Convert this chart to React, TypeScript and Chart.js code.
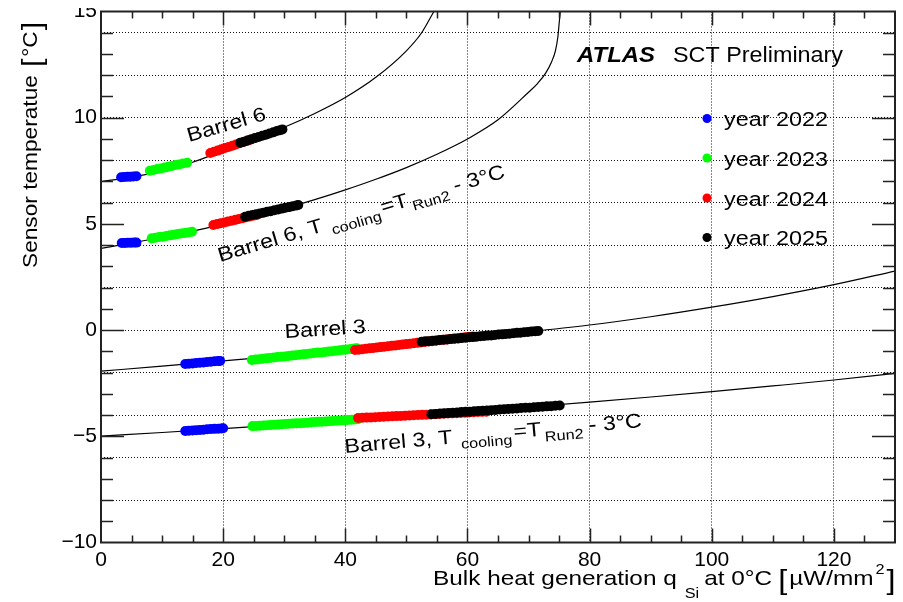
import React, { useEffect, useRef } from "react";
import { Chart, registerables } from "chart.js";

Chart.register(...registerables);

// ---------------- data ----------------
const X_MIN = 0;
const X_MAX = 130;
const Y_MIN = -10;
const Y_MAX = 15;
const X_TICK_LABELS = [0, 20, 40, 60, 80, 100, 120];
const Y_TICK_LABELS = [-10, -5, 0, 5, 10, 15];
const X_GRID = [20, 40, 60, 80, 100, 120];
const Y_GRID = [-8, -6, -4, -2, 0, 2, 4, 6, 8, 10, 12, 14];

const YEAR_LABELS = ["year 2022", "year 2023", "year 2024", "year 2025"];
const YEAR_COLORS = ["#0000ff", "#00ff00", "#ff0000", "#000000"];

// model curves
const CURVE_B6_X = [0, 5, 10, 15, 20, 25, 30, 35, 40, 45, 50, 52.5, 54.5];
const CURVE_B6_Y = [6.99, 7.2, 7.5, 7.9, 8.45, 9.0, 9.55, 10.2, 10.95, 11.9, 13.15, 14.0, 15.0];
const CURVE_B6T_X = [0, 5, 10, 15, 20, 25, 30, 35, 40, 45, 50, 55, 60, 65, 70, 71.5, 72.8, 73.8, 74.4, 74.8, 75.0, 75.2];
const CURVE_B6T_Y = [3.85, 4.1, 4.37, 4.66, 4.99, 5.34, 5.72, 6.14, 6.6, 7.1, 7.65, 8.28, 9.0, 9.9, 11.2, 11.62, 12.1, 12.65, 13.15, 13.8, 14.4, 15.0];
const CURVE_B3_X = [0, 10, 20, 30, 40, 50, 60, 70, 80, 90, 100, 110, 120, 130];
const CURVE_B3_Y = [-1.93, -1.7, -1.45, -1.2, -0.93, -0.65, -0.36, -0.08, 0.24, 0.63, 1.08, 1.58, 2.14, 2.78];
const CURVE_B3T_X = [0, 10, 20, 30, 40, 50, 60, 70, 80, 90, 100, 110, 120, 130];
const CURVE_B3T_Y = [-4.99, -4.82, -4.64, -4.45, -4.25, -4.05, -3.84, -3.62, -3.39, -3.15, -2.9, -2.63, -2.35, -2.04];

// Barrel 6 measurements
const B6_2022_X = [3.3, 3.8, 4.3, 4.8, 5.3, 5.8];
const B6_2022_Y = [7.2, 7.21, 7.22, 7.22, 7.23, 7.24];
const B6_2023_X = [8.0, 8.6, 9.2, 9.8, 10.4, 11.0, 11.6, 12.2, 12.8, 13.4, 14.1];
const B6_2023_Y = [7.5, 7.54, 7.58, 7.61, 7.65, 7.69, 7.73, 7.77, 7.8, 7.84, 7.88];
const B6_2024_X = [17.9, 18.5, 19.1, 19.7, 20.3, 20.9, 21.5, 22.1, 22.7, 23.3, 23.9, 24.3];
const B6_2024_Y = [8.34, 8.4, 8.45, 8.51, 8.57, 8.62, 8.68, 8.74, 8.8, 8.86, 8.91, 8.95];
const B6_2025_X = [22.8, 23.4, 24.0, 24.6, 25.2, 25.8, 26.4, 27.0, 27.6, 28.2, 28.8, 29.3, 29.7];
const B6_2025_Y = [8.82, 8.87, 8.93, 8.98, 9.04, 9.09, 9.15, 9.2, 9.26, 9.31, 9.37, 9.41, 9.45];

// Barrel 6, T_cooling = T_Run2 - 3C
const B6T_2022_X = [3.4, 3.9, 4.4, 4.9, 5.4, 5.8];
const B6T_2022_Y = [4.1, 4.1, 4.11, 4.11, 4.12, 4.12];
const B6T_2023_X = [8.3, 8.9, 9.5, 10.1, 10.7, 11.3, 11.9, 12.5, 13.1, 13.7, 14.3, 14.9];
const B6T_2023_Y = [4.32, 4.35, 4.38, 4.4, 4.43, 4.46, 4.49, 4.52, 4.55, 4.57, 4.6, 4.63];
const B6T_2024_X = [18.4, 19.0, 19.6, 20.2, 20.8, 21.4, 22.0, 22.6, 23.2, 23.8, 24.4, 25.0, 25.5];
const B6T_2024_Y = [4.95, 4.99, 5.03, 5.07, 5.11, 5.15, 5.19, 5.23, 5.27, 5.31, 5.35, 5.39, 5.42];
const B6T_2025_X = [23.6, 24.2, 24.8, 25.4, 26.0, 26.6, 27.2, 27.8, 28.4, 29.0, 29.6, 30.2, 30.8, 31.4, 32.0, 32.3];
const B6T_2025_Y = [5.34, 5.38, 5.42, 5.45, 5.49, 5.53, 5.57, 5.6, 5.64, 5.68, 5.72, 5.76, 5.79, 5.83, 5.87, 5.89];

// Barrel 3 measurements
const B3_2022_X = [13.8, 14.4, 15.0, 15.6, 16.2, 16.8, 17.4, 18.0, 18.6, 19.2, 19.5];
const B3_2022_Y = [-1.6, -1.58, -1.57, -1.55, -1.54, -1.52, -1.5, -1.49, -1.47, -1.46, -1.45];
const B3_2023_X = [24.7, 25.3, 25.9, 26.5, 27.1, 27.7, 28.3, 28.9, 29.5, 30.1, 30.7, 31.3, 31.9, 32.5, 33.1, 33.7, 34.3, 34.9, 35.5, 36.1, 36.7, 37.3, 37.9, 38.5, 39.1, 39.7, 40.3, 40.9, 41.5, 41.9];
const B3_2023_Y = [-1.41, -1.39, -1.37, -1.35, -1.33, -1.31, -1.29, -1.27, -1.26, -1.24, -1.22, -1.2, -1.18, -1.16, -1.14, -1.12, -1.1, -1.08, -1.06, -1.05, -1.03, -1.01, -0.99, -0.97, -0.95, -0.93, -0.91, -0.89, -0.87, -0.86];
const B3_2024_X = [41.6, 42.2, 42.8, 43.4, 44.0, 44.6, 45.2, 45.8, 46.4, 47.0, 47.6, 48.2, 48.8, 49.4, 50.0, 50.6, 51.2, 51.8, 52.4, 53.0, 53.6, 54.2, 54.8, 55.4, 56.0, 56.6, 57.2, 57.8, 58.4, 59.0, 59.6, 60.2, 60.9];
const B3_2024_Y = [-0.94, -0.92, -0.9, -0.88, -0.86, -0.84, -0.82, -0.8, -0.78, -0.76, -0.74, -0.72, -0.7, -0.68, -0.66, -0.64, -0.62, -0.6, -0.58, -0.56, -0.54, -0.52, -0.5, -0.48, -0.46, -0.44, -0.42, -0.4, -0.38, -0.36, -0.34, -0.32, -0.3];
const B3_2025_X = [52.5, 53.1, 53.7, 54.3, 54.9, 55.5, 56.1, 56.7, 57.3, 57.9, 58.5, 59.1, 59.7, 60.3, 60.9, 61.5, 62.1, 62.7, 63.3, 63.9, 64.5, 65.1, 65.7, 66.3, 66.9, 67.5, 68.1, 68.7, 69.3, 69.9, 70.5, 71.1, 71.6];
const B3_2025_Y = [-0.55, -0.53, -0.52, -0.5, -0.49, -0.47, -0.45, -0.44, -0.42, -0.41, -0.39, -0.37, -0.36, -0.34, -0.33, -0.31, -0.29, -0.28, -0.26, -0.25, -0.23, -0.21, -0.2, -0.18, -0.17, -0.15, -0.13, -0.12, -0.1, -0.09, -0.07, -0.05, -0.04];

// Barrel 3, T_cooling = T_Run2 - 3C
const B3T_2022_X = [13.8, 14.4, 15.0, 15.6, 16.2, 16.8, 17.4, 18.0, 18.6, 19.2, 19.7, 20.0];
const B3T_2022_Y = [-4.75, -4.74, -4.73, -4.71, -4.7, -4.69, -4.67, -4.66, -4.65, -4.64, -4.63, -4.62];
const B3T_2023_X = [24.8, 25.4, 26.0, 26.6, 27.2, 27.8, 28.4, 29.0, 29.6, 30.2, 30.8, 31.4, 32.0, 32.6, 33.2, 33.8, 34.4, 35.0, 35.6, 36.2, 36.8, 37.4, 38.0, 38.6, 39.2, 39.8, 40.4, 41.0, 41.6, 42.1];
const B3T_2023_Y = [-4.52, -4.51, -4.5, -4.49, -4.48, -4.47, -4.46, -4.45, -4.43, -4.42, -4.41, -4.4, -4.39, -4.38, -4.37, -4.36, -4.34, -4.33, -4.32, -4.31, -4.3, -4.29, -4.28, -4.27, -4.26, -4.25, -4.23, -4.22, -4.21, -4.2];
const B3T_2024_X = [42.1, 42.8, 43.5, 44.2, 44.9, 45.6, 46.3, 47.0, 47.7, 48.4, 49.1, 49.8, 50.5, 51.2, 51.9, 52.6, 53.3, 54.0, 54.7, 55.4, 56.1, 56.8, 57.5, 58.2, 58.9, 59.6, 60.3, 61.0, 61.7, 62.4, 63.1];
const B3T_2024_Y = [-4.14, -4.13, -4.12, -4.11, -4.1, -4.09, -4.08, -4.07, -4.06, -4.05, -4.04, -4.03, -4.02, -4.01, -4.0, -3.99, -3.98, -3.97, -3.96, -3.95, -3.94, -3.93, -3.92, -3.91, -3.9, -3.89, -3.88, -3.87, -3.86, -3.85, -3.84];
const B3T_2025_X = [54.1, 54.8, 55.5, 56.2, 56.9, 57.6, 58.3, 59.0, 59.7, 60.4, 61.1, 61.8, 62.5, 63.2, 63.9, 64.6, 65.3, 66.0, 66.7, 67.4, 68.1, 68.8, 69.5, 70.2, 70.9, 71.6, 72.3, 73.0, 73.7, 74.4, 75.1];
const B3T_2025_Y = [-3.96, -3.95, -3.93, -3.92, -3.9, -3.89, -3.88, -3.86, -3.85, -3.84, -3.82, -3.81, -3.8, -3.78, -3.77, -3.76, -3.74, -3.73, -3.71, -3.7, -3.69, -3.67, -3.66, -3.65, -3.63, -3.62, -3.61, -3.59, -3.58, -3.56, -3.55];

// ---------------- layout ----------------
const OFF = 8; // canvas top offset on the page
const W = 903;
const H = 602 - OFF;
const FONT = '"Liberation Sans", Arial, Helvetica, sans-serif';

function pts(xs: number[], ys: number[]) {
  return xs.map((x, i) => ({ x, y: ys[i] }));
}

function near(list: number[], v: number) {
  return list.some((l) => Math.abs(l - v) < 1e-6);
}

function fnt(size: number, style = "") {
  return `${style} ${size}px ${FONT}`.trim();
}

type Piece = { t: string; size: number; dy?: number; gap?: number; style?: string };

function drawPieces(ctx: CanvasRenderingContext2D, x: number, y: number, angleDeg: number, pieces: Piece[], sx: number) {
  ctx.save();
  ctx.translate(x, y);
  ctx.rotate((angleDeg * Math.PI) / 180);
  ctx.textAlign = "left";
  ctx.textBaseline = "alphabetic";
  let cx = 0;
  for (const p of pieces) {
    cx += p.gap || 0;
    ctx.font = fnt(p.size, p.style || "");
    const w = ctx.measureText(p.t).width * sx;
    ctx.save();
    ctx.translate(cx, p.dy || 0);
    ctx.scale(sx, 1);
    ctx.fillText(p.t, 0, 0);
    ctx.restore();
    cx += w;
  }
  ctx.restore();
}

function drawFit(ctx: CanvasRenderingContext2D, t: string, x: number, y: number, size: number, width: number, style = "") {
  ctx.save();
  ctx.font = fnt(size, style);
  ctx.textAlign = "left";
  ctx.textBaseline = "alphabetic";
  const w = ctx.measureText(t).width;
  ctx.translate(x, y);
  ctx.scale(width / w, 1);
  ctx.fillText(t, 0, 0);
  ctx.restore();
}

const decor = {
  id: "decor",
  afterDatasetsDraw(chart: any) {
    const { ctx, chartArea: a, scales } = chart;
    const xs = scales.x;
    const ys = scales.y;
    ctx.save();
    ctx.strokeStyle = "#222";
    ctx.lineWidth = 1.5;
    ctx.beginPath();
    for (let v = Y_MIN + 1; v < Y_MAX; v++) {
      const p = Math.round(ys.getPixelForValue(v)) + 0.5;
      const len = v % 5 === 0 ? 23 : 12;
      ctx.moveTo(a.left, p);
      ctx.lineTo(a.left + len, p);
      ctx.moveTo(a.right, p);
      ctx.lineTo(a.right - len, p);
    }
    for (let v = X_MIN + 5; v < X_MAX; v += 5) {
      const p = Math.round(xs.getPixelForValue(v)) + 0.5;
      const len = v % 20 === 0 ? 14 : 7;
      ctx.moveTo(p, a.bottom);
      ctx.lineTo(p, a.bottom - len);
      ctx.moveTo(p, a.top);
      ctx.lineTo(p, a.top + len);
    }
    ctx.stroke();
    ctx.lineWidth = 2;
    ctx.strokeRect(a.left, a.top, a.right - a.left, a.bottom - a.top);
    ctx.restore();
  },
  afterDraw(chart: any) {
    const ctx: CanvasRenderingContext2D = chart.ctx;
    ctx.save();
    ctx.translate(0, -OFF); // page coordinates
    ctx.fillStyle = "#000";

    // header
    drawFit(ctx, "ATLAS", 577, 62, 22, 78, "italic bold");
    drawFit(ctx, "SCT Preliminary", 673, 62, 22, 170);

    // legend
    const legY = [118.5, 158, 198, 237.5];
    YEAR_LABELS.forEach((lab, i) => {
      ctx.beginPath();
      ctx.fillStyle = YEAR_COLORS[i];
      ctx.arc(707, legY[i], 4.5, 0, Math.PI * 2);
      ctx.fill();
      ctx.fillStyle = "#000";
      drawFit(ctx, lab, 724, legY[i] + 7.5, 20, 104);
    });

    // curve labels
    const sx = 1.16;
    drawPieces(ctx, 189, 142, -16, [{ t: "Barrel 6", size: 20 }], sx);
    drawPieces(
      ctx, 220, 262, -16.5,
      [
        { t: "Barrel 6, T", size: 20 },
        { t: "cooling", size: 14, dy: 6, gap: 8 },
        { t: "=T", size: 20, gap: 2 },
        { t: "Run2", size: 14, dy: 6, gap: 3 },
        { t: "- 3°C", size: 20, gap: 6 },
      ],
      sx
    );
    drawPieces(ctx, 285, 338, -3.6, [{ t: "Barrel 3", size: 20 }], sx);
    drawPieces(
      ctx, 345, 453, -5,
      [
        { t: "Barrel 3, T", size: 20 },
        { t: "cooling", size: 14, dy: 6, gap: 8 },
        { t: "=T", size: 20, gap: 2 },
        { t: "Run2", size: 14, dy: 6, gap: 3 },
        { t: "- 3°C", size: 20, gap: 6 },
      ],
      sx
    );

    // x-axis title
    drawPieces(
      ctx, 433, 585, 0,
      [
        { t: "Bulk heat generation q", size: 21 },
        { t: "Si", size: 14, dy: 13, gap: 8 },
        { t: "at 0°C", size: 21, gap: 5 },
        { t: "[", size: 28, dy: 4, gap: 6 },
        { t: "µW/mm", size: 21, gap: 2 },
        { t: "2", size: 14, dy: -11, gap: 2 },
        { t: "]", size: 28, dy: 4, gap: 2 },
      ],
      1.16
    );

    // y-axis title
    drawPieces(
      ctx, 37, 268, -90,
      [
        { t: "Sensor temperatue", size: 21 },
        { t: "[", size: 28, dy: 4, gap: 8 },
        { t: "°C", size: 21, gap: 2 },
        { t: "]", size: 28, dy: 4, gap: 1 },
      ],
      1.08
    );
    ctx.restore();
  },
};

function fmt(v: number) {
  return v < 0 ? "\u2212" + Math.abs(v) : String(v);
}

export default function App() {
  const ref = useRef<HTMLCanvasElement | null>(null);

  useEffect(() => {
    if (!ref.current) return;

    const curve = (xs: number[], ys: number[]) => ({
      type: "line" as const,
      data: pts(xs, ys),
      showLine: true,
      borderColor: "#000",
      borderWidth: 1.2,
      pointRadius: 0,
      fill: false,
      cubicInterpolationMode: "monotone" as const,
      order: 10,
    });
    const marks = (xs: number[], ys: number[], year: number) => ({
      type: "scatter" as const,
      data: pts(xs, ys),
      label: YEAR_LABELS[year],
      backgroundColor: YEAR_COLORS[year],
      borderColor: YEAR_COLORS[year],
      borderWidth: 0,
      pointRadius: 5,
      showLine: false,
      order: 4 - year,
    });

    const datasets: any[] = [
      curve(CURVE_B6_X, CURVE_B6_Y),
      curve(CURVE_B6T_X, CURVE_B6T_Y),
      curve(CURVE_B3_X, CURVE_B3_Y),
      curve(CURVE_B3T_X, CURVE_B3T_Y),
      marks(B6_2022_X, B6_2022_Y, 0),
      marks(B6_2023_X, B6_2023_Y, 1),
      marks(B6_2024_X, B6_2024_Y, 2),
      marks(B6_2025_X, B6_2025_Y, 3),
      marks(B6T_2022_X, B6T_2022_Y, 0),
      marks(B6T_2023_X, B6T_2023_Y, 1),
      marks(B6T_2024_X, B6T_2024_Y, 2),
      marks(B6T_2025_X, B6T_2025_Y, 3),
      marks(B3_2022_X, B3_2022_Y, 0),
      marks(B3_2023_X, B3_2023_Y, 1),
      marks(B3_2024_X, B3_2024_Y, 2),
      marks(B3_2025_X, B3_2025_Y, 3),
      marks(B3T_2022_X, B3T_2022_Y, 0),
      marks(B3T_2023_X, B3T_2023_Y, 1),
      marks(B3T_2024_X, B3T_2024_Y, 2),
      marks(B3T_2025_X, B3T_2025_Y, 3),
    ];

    const plotTop = 11.5 - OFF;
    const plotBottom = 542.5 - OFF;

    const chart = new Chart(ref.current, {
      type: "scatter",
      data: { datasets },
      options: {
        responsive: false,
        animation: false,
        events: [],
        layout: { padding: { left: 0, right: 8, top: plotTop, bottom: 0 }, autoPadding: false },
        plugins: { legend: { display: false }, tooltip: { enabled: false } },
        scales: {
          x: {
            type: "linear",
            min: X_MIN,
            max: X_MAX,
            afterFit: (s: any) => {
              s.height = H - plotBottom;
              s.paddingLeft = 0;
              s.paddingRight = 0;
            },
            ticks: {
              stepSize: 5,
              autoSkip: false,
              maxRotation: 0,
              minRotation: 0,
              padding: 5,
              color: "#000",
              font: { family: FONT, size: 21 },
              callback: (v: any) => (near(X_TICK_LABELS, Number(v)) ? fmt(Math.round(Number(v))) : ""),
            },
            grid: {
              drawTicks: false,
              lineWidth: 1,
              color: (c: any) => (c.tick && near(X_GRID, c.tick.value) ? "#111" : "rgba(0,0,0,0)"),
            },
            border: { display: false, dash: [1, 2] },
          },
          y: {
            type: "linear",
            min: Y_MIN,
            max: Y_MAX,
            afterFit: (s: any) => {
              s.width = 101;
              s.paddingTop = 0;
              s.paddingBottom = 0;
            },
            ticks: {
              stepSize: 1,
              autoSkip: false,
              padding: 4,
              color: "#000",
              font: { family: FONT, size: 21 },
              callback: (v: any) => (near(Y_TICK_LABELS, Number(v)) ? fmt(Math.round(Number(v))) : ""),
            },
            grid: {
              drawTicks: false,
              lineWidth: 1,
              color: (c: any) => (c.tick && near(Y_GRID, c.tick.value) ? "#111" : "rgba(0,0,0,0)"),
            },
            border: { display: false, dash: [1, 2] },
          },
        },
      } as any,
      plugins: [decor as any],
    });

    return () => chart.destroy();
  }, []);

  return (
    <div style={{ position: "absolute", left: 0, top: OFF, width: W, height: H, background: "#fff" }}>
      <canvas ref={ref} width={W} height={H} style={{ display: "block", width: W, height: H }} />
    </div>
  );
}
